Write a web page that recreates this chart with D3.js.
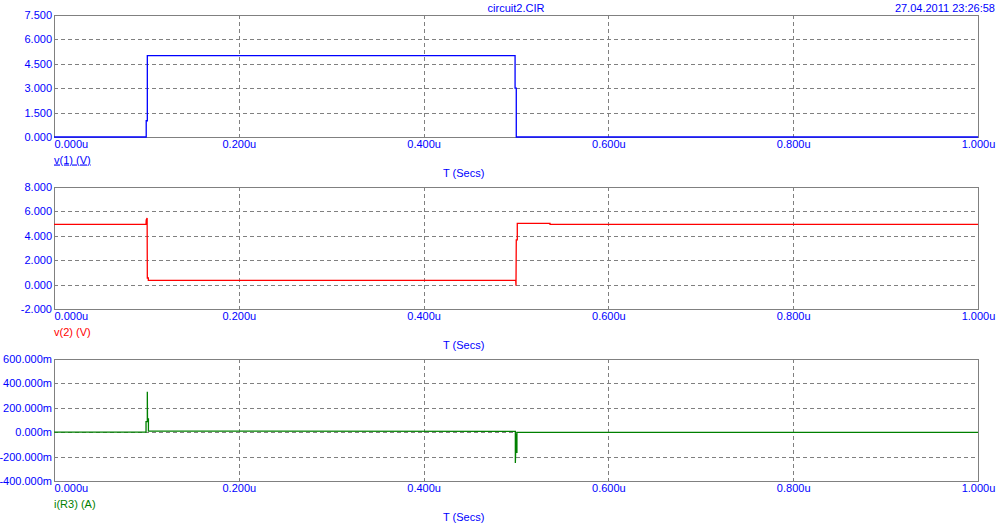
<!DOCTYPE html>
<html>
<head>
<meta charset="utf-8">
<script src="https://cdn.jsdelivr.net/npm/d3@7"></script>
<style>
  body { margin: 0; background: #fff; }
  svg text { font-family: "Liberation Sans", Arial, sans-serif; font-size: 11px; }
</style>
</head>
<body>
<svg width="1000" height="525"></svg>
<script>
// tick values
var xTicks = [0, 0.2, 0.4, 0.6, 0.8, 1.0];
var yTicks1 = [0, 1.5, 3, 4.5, 6, 7.5];
var yTicks2 = [-2, 0, 2, 4, 6, 8];
var yTicks3 = [-400, -200, 0, 200, 400, 600];

// v(1) (V)
var v1Time = [0, 0.0998, 0.0998, 0.1010, 0.1010, 0.4990, 0.4990, 0.5003, 0.5003, 1.0];
var v1Val  = [0, 0, 1.0, 1.0, 5.0, 5.0, 3.0, 3.0, 0, 0];

// v(2) (V)
var v2Time = [0, 0.0996, 0.0998, 0.1008, 0.1010, 0.1021, 0.1021, 0.4997, 0.5000, 0.5003, 0.5014, 0.5014, 0.5368, 0.5368, 1.0];
var v2Val  = [4.94, 4.94, 5.3, 5.46, 0.54, 0.54, 0.35, 0.35, -0.1, 3.66, 3.66, 5.02, 5.02, 4.94, 4.94];

// i(R3) (A), in mA
var i3Time = [0, 0.0996, 0.0996, 0.1010, 0.1010, 0.1012, 0.1022, 0.1022, 0.4993, 0.4993, 0.5002, 0.5002, 0.5010, 0.5010, 1.0];
var i3Val  = [0, 0, 86, 86, 332, 108, 108, 10, 7, -252, -10, -165, -165, -1, -2];

var svg = d3.select("svg"),
    left = 54, right = 978, h = 122,
    blue = "#0000ff";

var x = d3.scaleLinear().domain([0, 1]).range([left, right]);

var panels = [
  {top: 15,  ticks: yTicks1, time: v1Time, val: v1Val, color: "#0000ff", label: "v(1) (V)", fmt: function(d) { return d.toFixed(3); }, underline: true},
  {top: 187, ticks: yTicks2, time: v2Time, val: v2Val, color: "#ff0000", label: "v(2) (V)", fmt: function(d) { return d.toFixed(3); }},
  {top: 359, ticks: yTicks3, time: i3Time, val: i3Val, color: "#008000", label: "i(R3) (A)", fmt: function(d) { return d.toFixed(3) + "m"; }}
];

panels.forEach(function(p) {
  var bottom = p.top + h;
  var y = d3.scaleLinear()
      .domain(d3.extent(p.ticks))
      .range([bottom, p.top]);

  var g = svg.append("g");

  // grid
  g.append("g")
    .selectAll("line.hg")
    .data(p.ticks.slice(1, -1))
    .enter().append("line")
      .attr("x1", left).attr("x2", right)
      .attr("y1", function(d) { return Math.round(y(d)) + 0.5; })
      .attr("y2", function(d) { return Math.round(y(d)) + 0.5; })
      .attr("stroke", "#808080")
      .attr("stroke-dasharray", "4,3");
  g.append("g")
    .selectAll("line.vg")
    .data(xTicks.slice(1, -1))
    .enter().append("line")
      .attr("y1", p.top).attr("y2", bottom)
      .attr("x1", function(d) { return Math.round(x(d)) + 0.5; })
      .attr("x2", function(d) { return Math.round(x(d)) + 0.5; })
      .attr("stroke", "#808080")
      .attr("stroke-dasharray", "4,3");

  // frame
  g.append("rect")
    .attr("x", left + 0.5).attr("y", p.top + 0.5)
    .attr("width", right - left).attr("height", h)
    .attr("fill", "none")
    .attr("stroke", "#808080");

  // y axis labels
  var ya = g.append("g")
    .attr("transform", "translate(" + (left - 1) + ",0)")
    .call(d3.axisLeft(y).tickValues(p.ticks).tickSize(0).tickPadding(1).tickFormat(p.fmt));
  ya.select(".domain").remove();
  ya.selectAll("text").attr("fill", blue).style("font-size", "11px").style("font-family", null);

  // x axis labels
  var xa = g.append("g")
    .attr("transform", "translate(0," + (bottom + 3) + ")")
    .call(d3.axisBottom(x).tickValues(xTicks).tickSize(0).tickPadding(0)
      .tickFormat(function(d) { return d.toFixed(3) + "u"; }));
  xa.select(".domain").remove();
  xa.selectAll("text").attr("fill", blue).style("font-size", "11px").style("font-family", null)
    .attr("text-anchor", function(d) { return d === 0 ? "start" : "middle"; });

  // series
  var pts = p.time.map(function(t, i) { return [t, p.val[i]]; });
  var line = d3.line()
      .x(function(d) { return x(d[0]); })
      .y(function(d) { return y(d[1]); });
  g.append("path")
    .datum(pts)
    .attr("fill", "none")
    .attr("stroke", p.color)
    .attr("stroke-width", 1.3)
    .attr("d", line);

  // legend label
  g.append("text")
    .attr("x", left).attr("y", bottom + 26.5)
    .attr("fill", p.color)
    .style("text-decoration", p.underline ? "underline" : "none")
    .text(p.label);

  g.append("text")
    .attr("x", 443).attr("y", bottom + 40)
    .attr("fill", blue)
    .text("T (Secs)");
});

svg.append("text")
  .attr("x", (left + right) / 2).attr("y", 12)
  .attr("text-anchor", "middle")
  .attr("fill", blue)
  .text("circuit2.CIR");

svg.append("text")
  .attr("x", 995).attr("y", 12)
  .attr("text-anchor", "end")
  .attr("fill", blue)
  .text("27.04.2011 23:26:58");
</script>
</body>
</html>
